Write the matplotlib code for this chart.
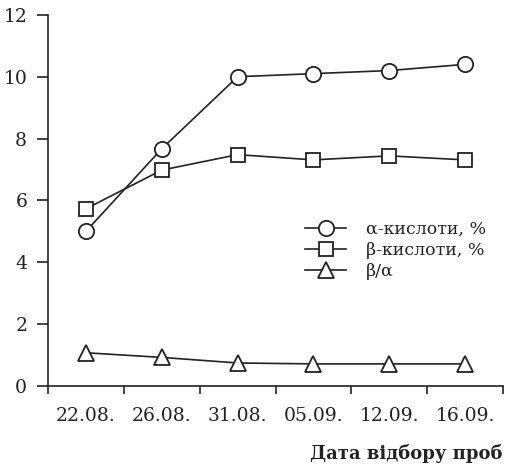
import numpy as np
import matplotlib
matplotlib.use('Agg')
from matplotlib import pyplot as plt

# data
dates = ['22.08.', '26.08.', '31.08.', '05.09.', '12.09.', '16.09.']
alpha_acids = [5.0, 7.67, 10.0, 10.1, 10.2, 10.4]
beta_acids = [5.73, 6.98, 7.48, 7.31, 7.44, 7.31]
beta_alpha = [1.07, 0.92, 0.74, 0.71, 0.71, 0.71]

plt.rcParams['font.family'] = 'DejaVu Serif'
plt.rcParams['mathtext.fontset'] = 'dejavuserif'

lc = '#222222'
fig = plt.figure(figsize=(5.06, 4.66), dpi=100)
ax = fig.add_axes([0.095, 0.172, 0.899, 0.796])

x = np.arange(len(dates))
style = dict(color=lc, lw=1.2, mfc='white', mec=lc, mew=1.3)
ax.plot(x, alpha_acids, marker='o', ms=11, label='α-кислоти, %', **style)
ax.plot(x, beta_acids, marker='s', ms=10, label='β-кислоти, %', **style)
ax.plot(x, beta_alpha, marker='^', ms=11, label='β/α', **style)

ax.set_xlim(-0.5, 5.5)
ax.set_ylim(0, 12)
ax.set_yticks(range(0, 13, 2))
ax.set_xticks(np.arange(-0.5, 6, 1))
ax.set_xticklabels([])
ax.set_xticks(x, minor=True)
ax.set_xticklabels(dates, minor=True)

for s in ['top', 'right']:
    ax.spines[s].set_visible(False)
for s in ['left', 'bottom']:
    ax.spines[s].set_color(lc)
    ax.spines[s].set_linewidth(1.2)

ax.tick_params(axis='y', which='major', length=8, width=1.2, color=lc,
               labelsize=13.5, labelcolor=lc, pad=7)
ax.tick_params(axis='x', which='major', length=6, width=1.2, color=lc)
ax.tick_params(axis='x', which='minor', length=0, labelsize=13.5,
               labelcolor=lc, pad=15)

ax.set_xlabel('Дата відбору проб', loc='right', fontsize=13,
              fontweight='bold', color=lc, labelpad=14)

ax.legend(loc='center left', bbox_to_anchor=(0.53, 0.365), frameon=False,
          fontsize=12.5, handlelength=2.4, handletextpad=1.1,
          labelspacing=0.25, labelcolor=lc)

fig.savefig('out.png', dpi=100)
